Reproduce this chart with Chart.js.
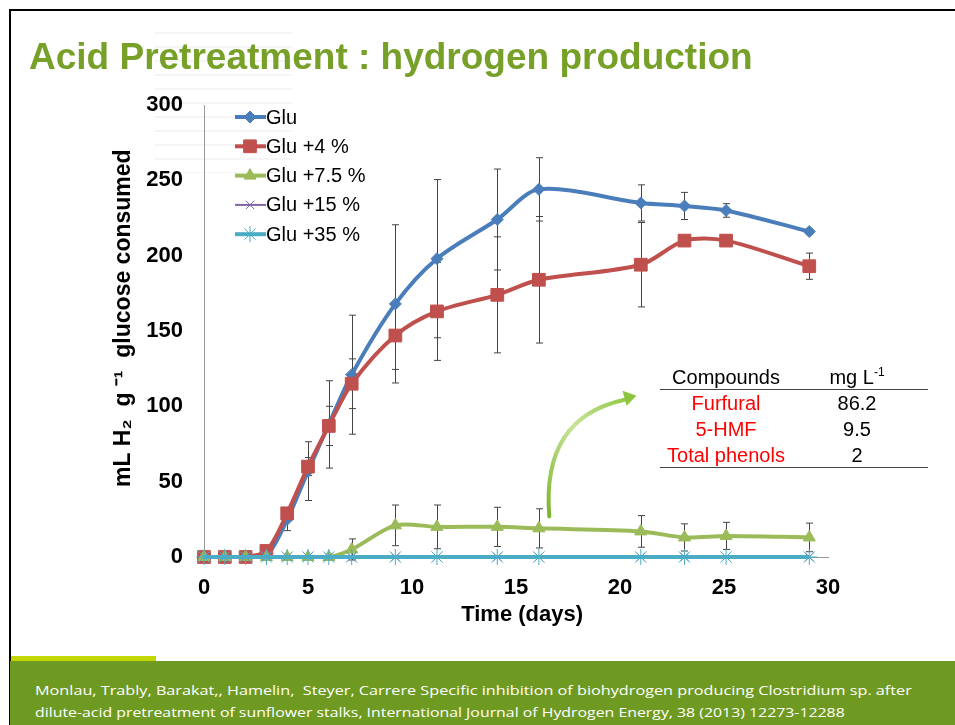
<!DOCTYPE html>
<html>
<head>
<meta charset="utf-8">
<script src="https://cdn.jsdelivr.net/npm/chart.js@4.4.0/dist/chart.umd.min.js"></script>
<style>
  body { margin: 0; width: 955px; height: 725px; overflow: hidden; background: #fff; font-family: "Liberation Sans", Arial, sans-serif; }
  #frame { position: absolute; left: 9px; top: 9px; width: 950px; height: 730px; border-left: 2px solid #000; border-top: 2px solid #000; }
  #ghost { position: absolute; left: 155px; top: 25px; width: 137px; height: 148px; opacity: 0.25;
    background: repeating-linear-gradient(180deg, transparent 0 7px, #d8d8d8 7px 9px, transparent 9px 14px),
                repeating-linear-gradient(90deg, transparent 0 32px, #fff 32px 35px); }
  #title { position: absolute; left: 29px; top: 36px; font-size: 37px; font-weight: bold; color: #76A028; white-space: nowrap; }
  #wrap { position: absolute; left: 0; top: 0; width: 955px; height: 725px; }
  #tbl { position: absolute; left: 660px; top: 0; width: 268px; font-size: 20px; }
  #tbl .row { position: absolute; left: 0; width: 268px; height: 24px; line-height: 24px; }
  #tbl .a { position: absolute; left: 0; width: 132px; text-align: center; color: #ff0000; }
  #tbl .b { position: absolute; left: 150px; width: 94px; text-align: center; color: #000; }
  #tbl .head .a { color: #000; }
  #tbl sup { font-size: 12px; line-height: 0; vertical-align: 8px; }
  #tbl .line { position: absolute; left: 0; width: 268px; border-top: 1px solid #444; }
  #strip { position: absolute; left: 11px; top: 656px; width: 145px; height: 5px; background: #C3D600; }
  #foot { position: absolute; left: 10px; top: 661px; width: 945px; height: 64px; background: #6F9A22; }
  #foot div { position: absolute; left: 25px; color: #fff; font-family: "Open Sans", sans-serif; font-size: 13.5px; white-space: nowrap; transform-origin: 0 0; }
</style>
</head>
<body>
<div id="frame"></div>
<div id="ghost"></div>
<div id="wrap"><canvas id="chart" width="955" height="725"></canvas></div>
<div id="title">Acid Pretreatment : hydrogen production</div>
<div id="tbl">
  <div class="row head" style="top:365px"><span class="a">Compounds</span><span class="b">mg L<sup>-1</sup></span></div>
  <div class="line" style="top:389px"></div>
  <div class="row" style="top:391px"><span class="a">Furfural</span><span class="b">86.2</span></div>
  <div class="row" style="top:417px"><span class="a">5-HMF</span><span class="b">9.5</span></div>
  <div class="row" style="top:443px"><span class="a">Total phenols</span><span class="b">2</span></div>
  <div class="line" style="top:467px"></div>
</div>
<div id="strip"></div>
<div id="foot">
  <div id="f1" style="top:20px">Monlau, Trably, Barakat,, Hamelin,&nbsp; Steyer, Carrere Specific inhibition of biohydrogen producing Clostridium sp. after</div>
  <div id="f2" style="top:42px">dilute-acid pretreatment of sunflower stalks, International Journal of Hydrogen Energy, 38 (2013) 12273-12288</div>
</div>
<script>
// temps de mesure (jours)
const days = [0, 1, 2, 3, 4, 5, 6, 7.1, 9.2, 11.2, 14.1, 16.1, 21, 23.1, 25.1, 29.1];

const glu = [0, 0, 0, 1, 25, 57, 88, 121, 168, 198, 224, 244, 235, 233, 230, 216];
const gluErr = [0, 0, 0, 0, 7.5, 19.5, 29, 39.5, 52.5, 52.5, 33.5, 21, 12, 9, 4.5, 2];

const glu4 = [0, 0, 0, 4, 29, 60, 87, 115, 147, 163, 174, 184, 194, 210, 210, 193];
const glu4Err = [0, 0, 0, 0, 3, 6, 13, 16.5, 22.5, 32.5, 38.5, 42, 28, 3, 3, 8.7];

const glu75 = [0, 0, 0, 0, 0, 0, 0, 5, 21, 20, 20, 19, 17, 13, 14, 13];
const glu75Err = [0, 0, 0, 0, 0, 0, 0, 7, 13.5, 14.5, 13, 13, 10.5, 9, 9, 9.5];

const glu15 = [0, 0, 0, 0, 0, 0, 0, 0, 0, 0, 0, 0, 0, 0, 0, 0];
const glu35 = [0, 0, 0, 0, 0, 0, 0, 0, 0, 0, 0, 0, 0, 0, 0, 0];

const labels = ["Glu", "Glu +4 %", "Glu +7.5 %", "Glu +15 %", "Glu +35 %"];
const xTicks = [0, 5, 10, 15, 20, 25, 30];
const yTicks = [0, 50, 100, 150, 200, 250, 300];

const pts = (vals) => vals.map((v, i) => ({ x: days[i], y: v }));
const errs = [gluErr, glu4Err, glu75Err, null, null];

const serie = (i, vals, color, style, radius, width, order) => ({
  label: labels[i],
  data: pts(vals),
  borderColor: color,
  backgroundColor: color,
  pointBackgroundColor: color,
  pointBorderColor: color,
  pointBorderWidth: 1,
  pointStyle: style,
  pointRadius: radius,
  borderWidth: width,
  tension: 0.3,
  clip: false,
  order: order,
});

// barres d'erreur
const errorBars = {
  id: "errorBars",
  beforeDatasetsDraw(chart) {
    const { ctx, scales: { x, y } } = chart;
    ctx.save();
    ctx.strokeStyle = "#444";
    ctx.lineWidth = 1;
    errs.forEach((e, d) => {
      if (!e) return;
      chart.data.datasets[d].data.forEach((p, i) => {
        if (!e[i]) return;
        const px = Math.round(x.getPixelForValue(p.x)) + 0.5;
        const top = y.getPixelForValue(p.y + e[i]);
        const bot = y.getPixelForValue(p.y - e[i]);
        ctx.beginPath();
        ctx.moveTo(px, top); ctx.lineTo(px, bot);
        ctx.moveTo(px - 3.5, top); ctx.lineTo(px + 3.5, top);
        ctx.moveTo(px - 3.5, bot); ctx.lineTo(px + 3.5, bot);
        ctx.stroke();
      });
    });
    ctx.restore();
  }
};

// legende dessinee a la main (ligne + marqueur)
const legendBox = {
  id: "legendBox",
  afterDraw(chart) {
    const ctx = chart.ctx;
    ctx.save();
    chart.data.datasets.forEach((ds, i) => {
      const yy = 117 + i * 29.3;
      ctx.strokeStyle = ds.borderColor;
      ctx.lineWidth = i === 3 ? 2 : 4;
      ctx.beginPath(); ctx.moveTo(235, yy); ctx.lineTo(266, yy); ctx.stroke();
      ctx.lineWidth = 1;
      ctx.fillStyle = ds.borderColor;
      Chart.helpers.drawPoint(ctx, { pointStyle: ds.pointStyle, radius: ds.pointRadius, borderWidth: 1 }, 250, yy);
      ctx.fillStyle = "#000";
      ctx.font = "20px 'Liberation Sans', Arial";
      ctx.textBaseline = "middle";
      ctx.fillText(ds.label, 266, yy + 1);
    });
    ctx.restore();
  }
};

// fleche verte vers le tableau
const arrow = {
  id: "arrow",
  afterDraw(chart) {
    const { ctx, scales: { x, y } } = chart;
    const x0 = x.getPixelForValue(16.6), y0 = y.getPixelForValue(27);
    const x1 = x.getPixelForValue(20.7), y1 = y.getPixelForValue(107);
    ctx.save();
    const g = ctx.createLinearGradient(x0, y0, x1, y1);
    g.addColorStop(0, "#7DB52C");
    g.addColorStop(0.6, "#C8E39A");
    g.addColorStop(1, "#8CC63F");
    ctx.strokeStyle = g;
    ctx.lineWidth = 4;
    ctx.lineCap = "round";
    ctx.beginPath();
    ctx.moveTo(x0, y0);
    ctx.quadraticCurveTo(x0 - 8, y1 + 22, x1 - 10, y1 + 4);
    ctx.stroke();
    ctx.fillStyle = "#8CC63F";
    ctx.beginPath();
    ctx.moveTo(x1 + 2, y1);
    ctx.lineTo(x1 - 12, y1 - 5);
    ctx.lineTo(x1 - 8, y1 + 10);
    ctx.closePath();
    ctx.fill();
    ctx.restore();
  }
};

const tickFont = { family: "'Liberation Sans', Arial", size: 22, weight: "bold" };
const yTitleFont = { family: "'Liberation Sans', Arial", size: 23, weight: "bold" };

new Chart(document.getElementById("chart"), {
  type: "line",
  data: {
    datasets: [
      serie(0, glu, "#4A7EBB", "rectRot", 6, 4, 4),
      serie(1, glu4, "#C0504D", "rect", 9, 4, 3),
      serie(2, glu75, "#9BBB59", "triangle", 7, 4, 2),
      serie(3, glu15, "#8064A2", "crossRot", 6, 2, 1),
      serie(4, glu35, "#4BACC6", "star", 8, 4, 0),
    ]
  },
  options: {
    responsive: false,
    animation: false,
    layout: { padding: { left: 0, right: 127, top: 105, bottom: 97 } },
    plugins: { legend: { display: false }, tooltip: { enabled: false } },
    scales: {
      x: {
        type: "linear", min: 0, max: 30,
        afterFit: (s) => { s.height = 71; },
        afterBuildTicks: (s) => { s.ticks = xTicks.map(v => ({ value: v })); },
        grid: { display: false, drawTicks: false },
        border: { color: "#999" },
        ticks: { font: tickFont, color: "#000", padding: 18 },
        title: { display: true, text: "\u00A0\u00A0Time (days)", font: tickFont, color: "#000", padding: 0 }
      },
      y: {
        min: 0, max: 300,
        afterFit: (s) => { s.width = 204; },
        afterBuildTicks: (s) => { s.ticks = yTicks.map(v => ({ value: v })); },
        grid: { display: false, drawTicks: false },
        border: { color: "#999" },
        ticks: { font: tickFont, color: "#000", padding: 21 },
        title: { display: true, text: "\u00A0\u00A0\u00A0\u00A0mL H\u2082  g \u207B\u00B9  glucose consumed", font: yTitleFont, color: "#000", padding: { top: 110, bottom: 0 } }
      }
    }
  },
  plugins: [errorBars, legendBox, arrow]
});

// ajuste la largeur des lignes de reference
[["f1", 877], ["f2", 810]].forEach(([id, w]) => {
  const el = document.getElementById(id);
  el.style.transform = "scaleX(" + (w / el.offsetWidth) + ")";
});
</script>
</body>
</html>
